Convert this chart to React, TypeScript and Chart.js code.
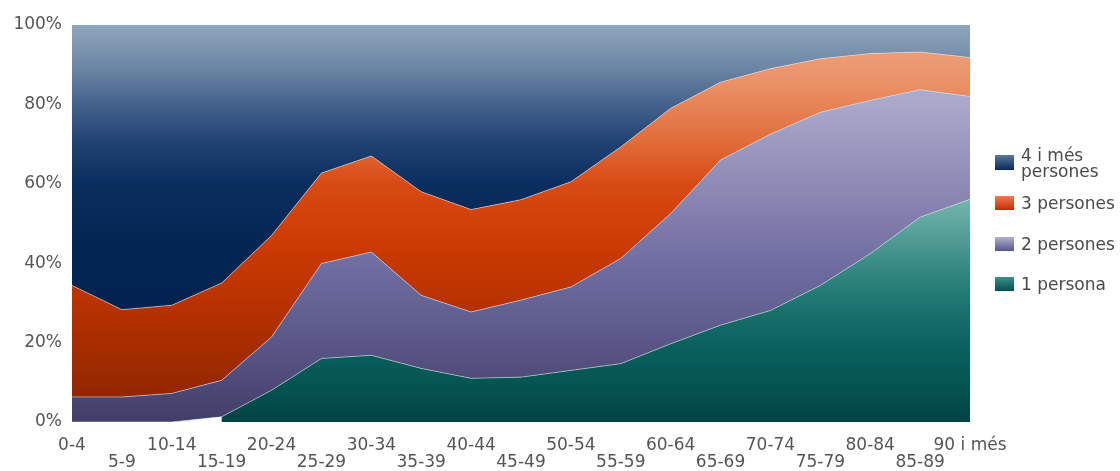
import React, { useEffect, useRef } from 'react';
import { Chart, registerables } from 'chart.js';

Chart.register(...registerables);

// ---- Data ----
const categories = ['0-4', '5-9', '10-14', '15-19', '20-24', '25-29', '30-34', '35-39', '40-44', '45-49', '50-54', '55-59', '60-64', '65-69', '70-74', '75-79', '80-84', '85-89', '90 i més'];
const onePerson = [0, 0, 0, 1.3, 8, 16, 16.8, 13.5, 11, 11.3, 13, 14.7, 19.7, 24.4, 28.1, 34.4, 42.4, 51.6, 56.1];
const twoPersons = [6.3, 6.3, 7.2, 9.2, 13.4, 23.9, 26, 18.4, 16.7, 19.4, 21, 26.5, 32.8, 41.6, 44.4, 43.6, 38.6, 32.1, 25.9];
const threePersons = [28.1, 22, 22.2, 24.5, 25.6, 22.8, 24.2, 26.1, 25.8, 25.3, 26.5, 28.1, 26.5, 19.6, 16.5, 13.5, 11.8, 9.5, 9.8];
const fourPlus = [65.6, 71.7, 70.6, 65, 53, 37.3, 33, 42, 46.5, 44, 39.5, 30.7, 21, 14.4, 11, 8.5, 7.2, 6.8, 8.2];
const yTicks = [0, 20, 40, 60, 80, 100];
const seriesNames = ['1 persona', '2 persones', '3 persones', '4 i més persones'];

// ---- Styles ----
type Stop = [number, string];
const tealStops: Stop[] = [[0, '#b4dad4'], [0.4, '#84beb6'], [0.5, '#5fa69f'], [0.6, '#3a8c86'], [0.7, '#1c7570'], [0.8, '#0b625e'], [0.9, '#055553'], [1, '#024243']];
const purpleStops: Stop[] = [[0, '#bcbcd6'], [0.2, '#a9a8c9'], [0.4, '#8e8bb6'], [0.6, '#706da1'], [0.8, '#5a5788'], [1, '#413e68']];
const orangeStops: Stop[] = [[0, '#eea884'], [0.15, '#ea9066'], [0.3, '#e06b38'], [0.4, '#d84a14'], [0.55, '#cc3b02'], [0.7, '#b83200'], [0.9, '#982800'], [1, '#8a2400']];
const navyStops: Stop[] = [[0, '#8fa6bc'], [0.1, '#6f88a6'], [0.2, '#44628c'], [0.3, '#1f4172'], [0.4, '#0b2e60'], [0.55, '#032552'], [1, '#02214b']];
const FONT = 'DejaVu Sans';
const TEXT = '#555555';
const EDGE = 'rgba(225,225,235,0.55)';

function makeGradient(chart: any, stops: Stop[]) {
  const area = chart.chartArea;
  if (!area) return 'transparent';
  const g = chart.ctx.createLinearGradient(0, area.top, 0, area.bottom);
  stops.forEach(([o, c]) => g.addColorStop(o, c));
  return g;
}

// Paints the first rising segment of the "1 persona" area white, as in the original.
const firstRisePlugin = {
  id: 'firstRise',
  afterDatasetDraw(chart: any, args: any) {
    if (args.index !== 0) return;
    const meta = chart.getDatasetMeta(0);
    const pts = meta.data;
    const yScale = chart.scales.y;
    const base = yScale.getPixelForValue(0);
    for (let i = 1; i < onePerson.length; i++) {
      if (onePerson[i - 1] === 0 && onePerson[i] > 0) {
        const a = pts[i - 1];
        const b = pts[i];
        const ctx = chart.ctx;
        ctx.save();
        const g = ctx.createLinearGradient(a.x, 0, b.x, 0);
        g.addColorStop(0, '#d8d8e0');
        g.addColorStop(0.6, '#ffffff');
        g.addColorStop(1, '#ffffff');
        ctx.fillStyle = g;
        ctx.beginPath();
        ctx.moveTo(a.x, base);
        ctx.lineTo(b.x, b.y);
        ctx.lineTo(b.x, base);
        ctx.closePath();
        ctx.fill();
        ctx.restore();
        break;
      }
    }
  },
};

const legendItems = [
  { lines: ['4 i més', 'persones'], top: 146.5, boxTop: 155, boxH: 15, box: 'linear-gradient(#5a779c, #082a5a)' },
  { lines: ['3 persones'], top: 195.3, boxTop: 196, boxH: 14, box: 'linear-gradient(#ee7a52, #c92a00)' },
  { lines: ['2 persones'], top: 236.3, boxTop: 237, boxH: 14, box: 'linear-gradient(#b0b0cf, #575686)' },
  { lines: ['1 persona'], top: 276.3, boxTop: 277, boxH: 14, box: 'linear-gradient(#3e918a, #00504e)' },
];

export default function App() {
  const canvasRef = useRef<HTMLCanvasElement | null>(null);

  useEffect(() => {
    const canvas = canvasRef.current;
    if (!canvas) return;
    const base = {
      borderColor: EDGE,
      borderWidth: 1,
      pointRadius: 0,
      tension: 0,
    };
    const chart = new Chart(canvas, {
      type: 'line',
      data: {
        labels: categories,
        datasets: [
          {
            ...base,
            label: seriesNames[0],
            data: onePerson,
            fill: 'origin',
            backgroundColor: (c: any) => makeGradient(c.chart, tealStops),
          },
          {
            ...base,
            label: seriesNames[1],
            data: twoPersons,
            fill: '-1',
            backgroundColor: (c: any) => makeGradient(c.chart, purpleStops),
          },
          {
            ...base,
            label: seriesNames[2],
            data: threePersons,
            fill: '-1',
            backgroundColor: (c: any) => makeGradient(c.chart, orangeStops),
          },
          {
            ...base,
            label: seriesNames[3],
            data: fourPlus,
            fill: '-1',
            borderWidth: 0,
            backgroundColor: (c: any) => makeGradient(c.chart, navyStops),
          },
        ],
      } as any,
      options: {
        responsive: false,
        animation: false,
        devicePixelRatio: 1,
        layout: { padding: { left: 0, right: 150, top: 25, bottom: 0 } },
        plugins: { legend: { display: false }, tooltip: { enabled: false } },
        scales: {
          x: {
            grid: { display: false, drawTicks: false },
            border: { display: false },
            ticks: {
              autoSkip: false,
              maxRotation: 0,
              minRotation: 0,
              padding: 15,
              color: TEXT,
              font: { family: FONT, size: 17, lineHeight: 1 },
              callback: (_v: any, i: number) => (i % 2 ? ['', categories[i]] : categories[i]),
            },
            afterFit: (s: any) => {
              s.height = 49;
            },
          },
          y: {
            stacked: true,
            min: 0,
            max: 100,
            z: 1,
            grid: {
              drawTicks: false,
              color: (c: any) => (c.tick && c.tick.value === 0 ? 'rgba(0,0,0,0)' : 'rgba(235,240,250,0.22)'),
              lineWidth: 1,
            },
            border: { display: false },
            ticks: {
              padding: 10,
              color: TEXT,
              font: { family: FONT, size: 17 },
              callback: (v: any) => v + '%',
            },
            afterBuildTicks: (s: any) => {
              s.ticks = yTicks.map((v) => ({ value: v }));
            },
            afterFit: (s: any) => {
              s.width = 72;
            },
          },
        },
      } as any,
      plugins: [firstRisePlugin],
    });
    return () => chart.destroy();
  }, []);

  return (
    <div style={{ position: 'fixed', left: 0, top: 0, width: 1120, height: 471, background: '#ffffff', overflow: 'hidden' }}>
      <canvas ref={canvasRef} width={1120} height={471} style={{ position: 'absolute', left: 0, top: 0, width: 1120, height: 471 }} />
      {legendItems.map((it, k) => (
        <React.Fragment key={k}>
          <div style={{ position: 'absolute', left: 995, top: it.boxTop, width: 19, height: it.boxH, background: it.box }} />
          <div
            style={{
              position: 'absolute',
              left: 1021,
              top: it.top,
              font: `17px/16px '${FONT}'`,
              color: '#4a4a4a',
              whiteSpace: 'nowrap',
            }}
          >
            {it.lines.map((l, j) => (
              <div key={j}>{l}</div>
            ))}
          </div>
        </React.Fragment>
      ))}
    </div>
  );
}
